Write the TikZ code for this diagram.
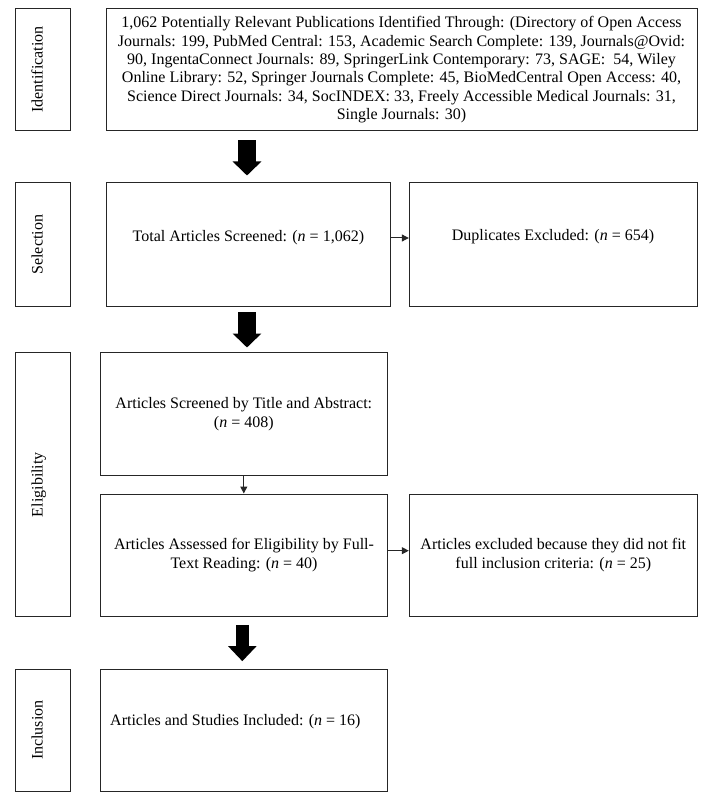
\documentclass[tikz,border=0pt]{standalone}
\usepackage{fontspec}
\setmainfont{Liberation Serif}
\usetikzlibrary{arrows.meta}
\begin{document}
\begin{tikzpicture}[x=1pt,y=-1pt,
  box/.style={draw=black!85, line width=1pt, rectangle, inner sep=0pt},
  txt/.style={font=\fontsize{16}{18.3}\selectfont, align=center, inner sep=0pt},
  side/.style={font=\fontsize{16}{18.3}\selectfont, rotate=90, anchor=base, inner sep=0pt},
  smallarrow/.style={line width=1pt, draw=black!85, -{Triangle[length=7pt,width=7pt]}},
  bigarrow/.style={line width=18pt, -{Triangle[length=14pt,width=28pt]}},
  bigarrowb/.style={line width=13.5pt, -{Triangle[length=15pt,width=27.5pt]}}]
\useasboundingbox (0,0) rectangle (703,799);
\fill[white] (0,0) rectangle (703,799);

% side boxes
\node[box, minimum width=55pt, minimum height=122.2pt] (ident) at (42.8,69.4) {};
\node[box, minimum width=55pt, minimum height=123.5pt] (sel) at (42.8,244.75) {};
\node[box, minimum width=55pt, minimum height=263.8pt] (elig) at (42.8,484.6) {};
\node[box, minimum width=55pt, minimum height=122.3pt] (incl) at (42.8,730.15) {};
\node[side] (identt) at (42.5,69.4) {Identification};
\node[side] (selt) at (42.5,244.75) {Selection};
\node[side] (eligt) at (42.5,484.6) {Eligibility};
\node[side] (inclt) at (42.5,730.15) {Inclusion};

% main boxes
\node[box, minimum width=591pt, minimum height=122.7pt] (top) at (401.5,69.65) {};
\node[box, minimum width=284.7pt, minimum height=123.5pt] (total) at (248.35,244.75) {};
\node[box, minimum width=288.2pt, minimum height=123.5pt] (dup) at (553.4,244.75) {};
\node[box, minimum width=287.6pt, minimum height=122.3pt] (screened) at (243.8,413.85) {};
\node[box, minimum width=287.3pt, minimum height=122.7pt] (assessed) at (244.05,555.35) {};
\node[box, minimum width=288pt, minimum height=122.7pt] (excluded) at (553.3,555.35) {};
\node[box, minimum width=287.3pt, minimum height=122.5pt] (included) at (243.65,730.25) {};

% texts
\node[txt] (topt) at (401.5,69.7) {1,062 Potentially Relevant Publications Identified Through: (Directory of Open Access\\
Journals: 199, PubMed Central: 153, Academic Search Complete: 139, Journals@Ovid:\\
90, IngentaConnect Journals: 89, SpringerLink Contemporary: 73, SAGE:\ \ 54, Wiley\\
Online Library: 52, Springer Journals Complete: 45, BioMedCentral Open Access: 40,\\
Science Direct Journals: 34, SocINDEX: 33, Freely Accessible Medical Journals: 31,\\
Single Journals: 30)};
\node[txt] (totalt) at (248.4,238) {Total Articles Screened: (\textit{n} = 1,062)};
\node[txt] (dupt) at (553,237) {Duplicates Excluded: (\textit{n} = 654)};
\node[txt] (screenedt) at (243.8,414) {Articles Screened by Title and Abstract:\\(\textit{n} = 408)};
\node[txt] (assessedt) at (244,555) {Articles Assessed for Eligibility by Full-\\Text Reading: (\textit{n} = 40)};
\node[txt] (excludedt) at (553.3,555) {Articles excluded because they did not fit\\full inclusion criteria: (\textit{n} = 25)};
\node[txt, anchor=west] (includedt) at (110,721.7) {Articles and Studies Included: (\textit{n} = 16)};

% connectors
\coordinate (a1) at (247,0);
\coordinate (a3) at (242.3,0);
\coordinate (r2) at (0,550.7);
\draw[bigarrow, shorten <=9pt, shorten >=7pt] (top.south -| a1) -- (total.north -| a1);
\draw[bigarrow, shorten <=5.2pt, shorten >=4.7pt] (total.south -| a1) -- (screened.north -| a1);
\draw[bigarrowb, shorten <=7.6pt, shorten >=7.3pt] (assessed.south -| a3) -- (included.north -| a3);
\draw[smallarrow] (total.east |- totalt) -- (dup.west |- totalt);
\draw[smallarrow] (screened.south) -- (screened.south |- assessed.north);
\draw[smallarrow] (assessed.east |- r2) -- (excluded.west |- r2);
\end{tikzpicture}
\end{document}
